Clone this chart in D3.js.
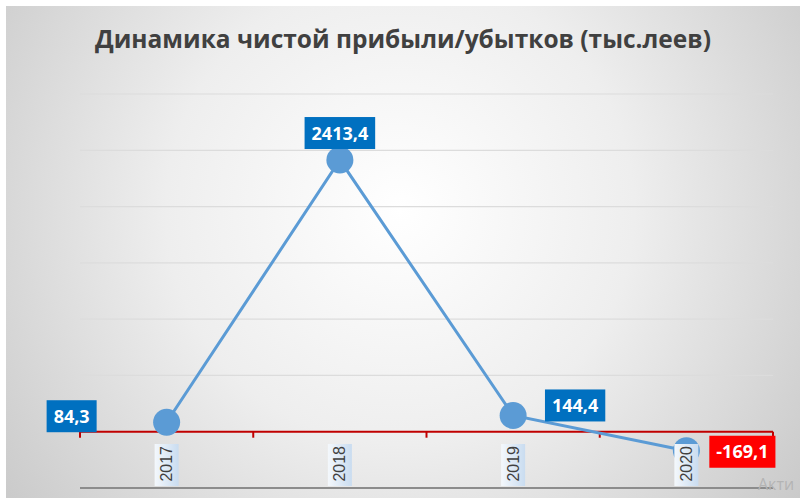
<!DOCTYPE html>
<html><head><meta charset="utf-8">
<script src="https://cdn.jsdelivr.net/npm/d3@7"></script>
<style>html,body{margin:0;padding:0;background:#fff;}svg{display:block;}</style>
</head><body>
<svg id="c" width="800" height="503"></svg>
<script>
const categories = ["2017","2018","2019","2020"];
const values = [84.3, 2413.4, 144.4, -169.1];
const labels = ["84,3","2413,4","144,4","-169,1"];
const yTicks = [-500,0,500,1000,1500,2000,2500,3000];
const title = "Динамика чистой прибыли/убытков (тыс.леев)";

const svg = d3.select("#c");
const defs = svg.append("defs");
const rg = defs.append("radialGradient").attr("id","bg")
  .attr("gradientUnits","userSpaceOnUse").attr("cx",400).attr("cy",210).attr("r",520)
  .attr("fx",400).attr("fy",210);
rg.append("stop").attr("offset","0%").attr("stop-color","#ffffff");
rg.append("stop").attr("offset","45%").attr("stop-color","#eeeeee");
rg.append("stop").attr("offset","100%").attr("stop-color","#c6c6c6");
const lg = defs.append("linearGradient").attr("id","lab").attr("x1",0).attr("x2",0).attr("y1",0).attr("y2",1);
lg.append("stop").attr("offset","0%").attr("stop-color","#f4f8fc");
lg.append("stop").attr("offset","100%").attr("stop-color","#c9dcf0");

svg.append("rect").attr("x",6).attr("y",6).attr("width",794).attr("height",492).attr("fill","url(#bg)");

const x = d3.scaleBand().domain(categories).range([80,773]);
const y = d3.scaleLinear().domain([-500,3000]).range([488,94]);

// gridlines
svg.append("g").selectAll("line").data(yTicks.filter(d=>d!==0)).join("line")
  .attr("x1",80).attr("x2",773).attr("y1",d=>y(d)).attr("y2",d=>y(d))
  .attr("stroke",d=>d===-500?"#8c8c8c":"#dcdcdc").attr("stroke-width",d=>d===-500?2:1.2);

// zero axis
const ax = svg.append("g").attr("transform",`translate(0,${y(0)})`)
  .call(d3.axisBottom(x).tickSize(0).tickFormat(""));
ax.select(".domain").remove();
svg.append("line").attr("x1",80).attr("x2",773).attr("y1",y(0)).attr("y2",y(0))
  .attr("stroke","#c00000").attr("stroke-width",2);
const bounds = categories.map(c=>x(c)).concat([x(categories[3])+x.bandwidth()]);
svg.append("g").selectAll("line").data(bounds).join("line")
  .attr("x1",d=>d).attr("x2",d=>d).attr("y1",y(0)).attr("y2",y(0)+6)
  .attr("stroke","#c00000").attr("stroke-width",2);

// line
const cx = d=>x(d)+x.bandwidth()/2;
const line = d3.line().x((d,i)=>cx(categories[i])).y(d=>y(d));
svg.append("path").datum(values).attr("d",line).attr("fill","none")
  .attr("stroke","#5b9bd5").attr("stroke-width",3);
svg.append("g").selectAll("circle").data(values).join("circle")
  .attr("cx",(d,i)=>cx(categories[i])).attr("cy",d=>y(d)).attr("r",13.5)
  .attr("fill","#5b9bd5");

// category labels (drawn over markers)
const cl = svg.append("g").selectAll("g").data(categories).join("g")
  .attr("transform",d=>`translate(${x(d)+x.bandwidth()/2},444) rotate(-90)`);
cl.append("rect").attr("x",-42).attr("y",-12).attr("width",42).attr("height",24).attr("fill","url(#lab)");
cl.append("text").text(d=>d).attr("x",-2).attr("y",5.5).attr("text-anchor","end")
  .attr("font-family","Liberation Sans, Arial, sans-serif").attr("font-size",16).attr("fill","#404040");

// data labels: offsets [dx, dy] of box center relative to point
const offs = [[-95,-6],[0,-27],[62,-10],[56,1]];
const dl = svg.append("g").selectAll("g").data(values).join("g")
  .attr("transform",(d,i)=>`translate(${cx(categories[i])+offs[i][0]},${y(d)+offs[i][1]})`);
dl.each(function(d,i){
  const g = d3.select(this);
  const t = g.append("text").text(labels[i]).attr("text-anchor","middle").attr("y",6.5)
    .attr("font-family","Open Sans, sans-serif").attr("font-weight","bold").attr("font-size",18)
    .attr("fill","#fff");
  const w = t.node().getComputedTextLength()+14;
  g.insert("rect","text").attr("x",-w/2).attr("y",-16).attr("width",w).attr("height",32)
    .attr("fill",d<0?"#ff0000":"#0070c0");
});

// title
svg.append("text").text(title).attr("x",403).attr("y",48).attr("text-anchor","middle")
  .attr("font-family","Open Sans, sans-serif").attr("font-weight","bold").attr("font-size",25)
  .attr("fill","#404040").attr("textLength",616).attr("lengthAdjust","spacingAndGlyphs");

// watermark artifact
svg.append("text").text("Акти").attr("x",758).attr("y",490).attr("font-family","Open Sans, sans-serif")
  .attr("font-size",16).attr("fill","#b4b4b4");
</script>
</body></html>
